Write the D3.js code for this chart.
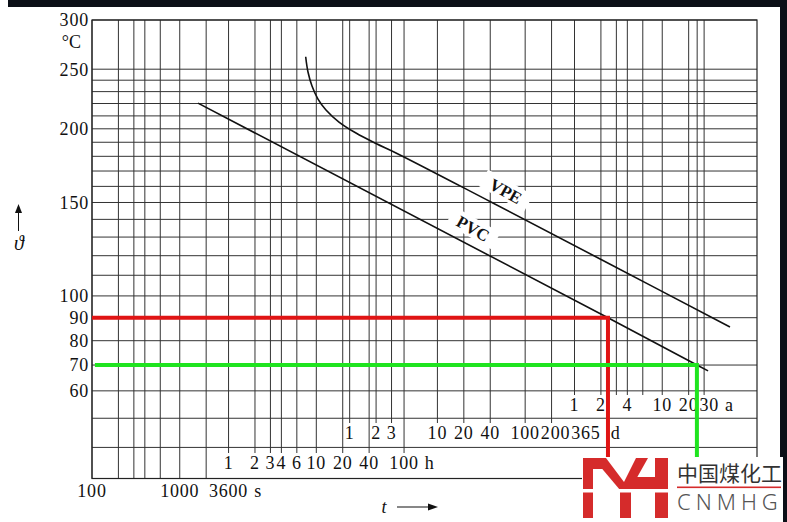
<!DOCTYPE html>
<html><head><meta charset="utf-8">
<script src="https://cdn.jsdelivr.net/npm/d3@7"></script>
<style>body{margin:0;background:#fff}svg{display:block}</style>
</head><body><svg id="c" width="787" height="522"></svg>
<script>
// ---------- data ----------
const tDomain = [100, 3.79e9];            // seconds
const tempDomain = [300, 30];             // °C (top, bottom)
const tempLabels = [300, 250, 200, 150, 100, 90, 80, 70, 60];
const tempGrid = [300,250,240,230,220,210,200,190,180,170,160,150,140,130,120,110,100,90,80,70,60,50,40,30];
const secGrid = [100, 200, 300, 400, 600, 1000, 2000];
const hourGrid = [1, 2, 3, 4, 6, 10, 20, 40, 100];
const dayGrid = [1, 2, 3, 10, 20, 40, 100, 200];
const yearGrid = [1, 2, 3, 4, 6, 10, 20, 25, 30];
const secLabels = [100, 1000, 3600];
const hourLabels = [1, 2, 3, 4, 6, 10, 20, 40, 100];
const dayLabels = [1, 2, 3, 10, 20, 40, 100, 200, 365];
const yearLabels = [1, 2, 4, 10, 20, 30];
const pvc = [{t:1614,T:220.3},{t:7.59e7,T:90},{t:7.83e8,T:70},{t:1.05e9,T:67.7}];
const vpe = [{t:27240,T:261.8},{t:28940,T:247.4},{t:32150,T:234.9},{t:37630,T:223.7},{t:46420,T:214.7},
             {t:65280,T:205.2},{t:102000,T:196.8},{t:172400,T:189.1},{t:299100,T:182.0},
             {t:3.433e6,T:150.6},{t:6.66e7,T:117.5},{t:1.865e9,T:85.9}];
const redMark = [{t:100,T:90},{t:7.59e7,T:90},{t:7.59e7,T:30}];
const greenMark = [{t:108,T:70},{t:7.83e8,T:70},{t:7.83e8,T:30}];
const curveLabels = [{name:"VPE", t:5.2e6, T:157}, {name:"PVC", t:2.2e6, T:134.8}];

// ---------- setup ----------
const K = 273.15, HOUR = 3600, DAY = 86400, YEAR = 365 * DAY;
const svg = d3.select("#c");
const L = 92, R = 757, TOP = 20, BOT = 478.5;
const x = d3.scaleLog().domain(tDomain).range([L, R]);
const yInv = d3.scaleLinear().domain(tempDomain.map(T => 1 / (T + K))).range([TOP, BOT]);
const y = T => yInv(1 / (T + K));
const serif = "'Liberation Serif', 'Times New Roman', serif";
const FS = 18, LS = 0.8;
const rows = {a: 405, d: 433, h: 463, s: 491};
const gridColor = "#333";

svg.append("rect").attr("width", 787).attr("height", 522).attr("fill", "#fff");

// horizontal grid
svg.append("g").selectAll("line").data(tempGrid).join("line")
  .attr("x1", L).attr("x2", R).attr("y1", d => y(d)).attr("y2", d => y(d))
  .attr("stroke", gridColor).attr("stroke-width", 1);

// vertical grid groups
const vGroups = [
  {vals: secGrid, mult: 1, bottom: BOT},
  {vals: hourGrid, mult: HOUR, bottom: rows.h - 10},
  {vals: dayGrid, mult: DAY, bottom: rows.d - 10},
  {vals: yearGrid, mult: YEAR, bottom: rows.a - 10}
];
vGroups.forEach(g => {
  svg.append("g").selectAll("line").data(g.vals).join("line")
    .attr("x1", d => x(d * g.mult)).attr("x2", d => x(d * g.mult))
    .attr("y1", TOP).attr("y2", g.bottom)
    .attr("stroke", gridColor).attr("stroke-width", 1);
});

// frame
svg.append("rect").attr("x", L).attr("y", TOP).attr("width", R - L).attr("height", BOT - TOP)
  .attr("fill", "none").attr("stroke", "#222").attr("stroke-width", 1.2);

// y labels
svg.append("g").selectAll("text").data(tempLabels).join("text")
  .attr("x", 89).attr("y", d => y(d)).attr("dy", "0.35em")
  .attr("text-anchor", "end").attr("font-family", serif).attr("font-size", FS)
  .attr("letter-spacing", LS).attr("fill", "#111")
  .text(d => d);
svg.append("text").attr("x", 81).attr("y", y(300) + 22).attr("dy", "0.35em")
  .attr("text-anchor", "end").attr("font-family", serif).attr("font-size", FS).attr("fill", "#111")
  .text("°C");

// time label rows
function labelRow(vals, mult, rowY, unit, gap) {
  const g = svg.append("g");
  const texts = g.selectAll("text").data(vals).join("text")
    .attr("x", d => x(d * mult)).attr("y", rowY).attr("dy", "0.35em")
    .attr("text-anchor", "middle").attr("font-family", serif).attr("font-size", FS)
    .attr("letter-spacing", LS).attr("fill", "#111")
    .text(d => d);
  let prevRight = -Infinity;
  texts.each(function(d) {
    const w = this.getComputedTextLength();
    let cx = x(d * mult);
    if (cx - w / 2 < prevRight + 1) cx = prevRight + 1 + w / 2;
    d3.select(this).attr("x", cx);
    prevRight = cx + w / 2;
  });
  g.append("text").attr("x", prevRight + gap).attr("y", rowY).attr("dy", "0.35em")
    .attr("font-family", serif).attr("font-size", FS).attr("fill", "#111").text(unit);
}
labelRow(yearLabels, YEAR, rows.a, "a", 6);
labelRow(dayLabels, DAY, rows.d, "d", 10);
labelRow(hourLabels, HOUR, rows.h, "h", 6);
labelRow(secLabels, 1, rows.s, "s", 6);

// curves
const lin = d3.line().x(d => x(d.t)).y(d => y(d.T));
svg.append("path").attr("d", lin(pvc))
  .attr("fill", "none").attr("stroke", "#111").attr("stroke-width", 1.6);
svg.append("path").attr("d", d3.line().x(d => x(d.t)).y(d => y(d.T)).curve(d3.curveCatmullRom.alpha(0.5))(vpe))
  .attr("fill", "none").attr("stroke", "#111").attr("stroke-width", 1.6);

// curve labels
const ang = Math.atan2(y(pvc[3].T) - y(pvc[0].T), x(pvc[3].t) - x(pvc[0].t)) * 180 / Math.PI + 2;
curveLabels.forEach(c => {
  const g = svg.append("g").attr("transform", `translate(${x(c.t)},${y(c.T)}) rotate(${ang})`);
  g.append("rect").attr("x", -26).attr("y", -10).attr("width", 52).attr("height", 19).attr("fill", "#fff");
  g.append("text").attr("text-anchor", "middle").attr("dy", "0.35em")
    .attr("font-family", serif).attr("font-weight", "bold").attr("font-size", 17)
    .attr("fill", "#111").text(c.name);
});

// red / green reading lines
svg.append("path").attr("d", lin(redMark)).attr("fill", "none").attr("stroke", "#e01414").attr("stroke-width", 4);
svg.append("path").attr("d", lin(greenMark)).attr("fill", "none").attr("stroke", "#1fe41f").attr("stroke-width", 4);

// axis titles
svg.append("text").attr("x", 384).attr("y", 507).attr("dy", "0.35em").attr("text-anchor", "middle")
  .attr("font-family", serif).attr("font-style", "italic").attr("font-size", 18).attr("fill", "#111").text("t");
svg.append("line").attr("x1", 397).attr("x2", 430).attr("y1", 507).attr("y2", 507).attr("stroke", "#111").attr("stroke-width", 1.2);
svg.append("path").attr("d", "M438,507 L428,503.5 L428,510.5 Z").attr("fill", "#111");
svg.append("text").attr("x", 19).attr("y", 243).attr("dy", "0.35em").attr("text-anchor", "middle")
  .attr("font-family", serif).attr("font-style", "italic").attr("font-size", 20).attr("fill", "#111").text("ϑ");
svg.append("line").attr("x1", 18.5).attr("x2", 18.5).attr("y1", 231).attr("y2", 212).attr("stroke", "#111").attr("stroke-width", 1);
svg.append("path").attr("d", "M18.5,204 L15,213 L22,213 Z").attr("fill", "#111");

// scan borders
svg.append("rect").attr("x", 8).attr("y", 0).attr("width", 779).attr("height", 7).attr("fill", "#0b0f17");
svg.append("rect").attr("x", 780).attr("y", 0).attr("width", 7).attr("height", 522).attr("fill", "#0b0f17");

// watermark logo
const lg = svg.append("g").attr("transform", "translate(582,457)");
lg.append("rect").attr("x", 0).attr("y", 0).attr("width", 201).attr("height", 65).attr("fill", "#fff");
const red = "#d52b2b";
lg.append("rect").attr("x", 1).attr("y", 1).attr("width", 10).attr("height", 60).attr("fill", red);
lg.append("rect").attr("x", 1).attr("y", 1).attr("width", 22).attr("height", 11).attr("fill", red);
lg.append("path").attr("d", "M11,1 L24,1 L48,33 L38,33 Z").attr("fill", red);
lg.append("path").attr("d", "M54,1 L66,1 L48,33 L38,33 Z").attr("fill", red);
lg.append("rect").attr("x", 38).attr("y", 30).attr("width", 11).attr("height", 31).attr("fill", red);
lg.append("rect").attr("x", 49).attr("y", 20).attr("width", 27).attr("height", 12).attr("fill", red);
lg.append("rect").attr("x", 73).attr("y", 1).attr("width", 13).attr("height", 60).attr("fill", red);
lg.append("rect").attr("x", 0).attr("y", 32).attr("width", 90).attr("height", 3.5).attr("fill", "#fff");
lg.append("text").attr("x", 95).attr("y", 24).attr("font-family", "'Noto Sans CJK SC', sans-serif")
  .attr("font-size", 21).attr("fill", "#333").text("中国煤化工");
lg.append("rect").attr("x", 95).attr("y", 29.5).attr("width", 104).attr("height", 1.6).attr("fill", red);
lg.append("text").attr("x", 95).attr("y", 53).attr("font-family", "'Noto Sans', sans-serif").attr("font-weight", 300)
  .attr("font-size", 22).attr("letter-spacing", 5).attr("fill", "#555").text("CNMHG");
</script></body></html>
